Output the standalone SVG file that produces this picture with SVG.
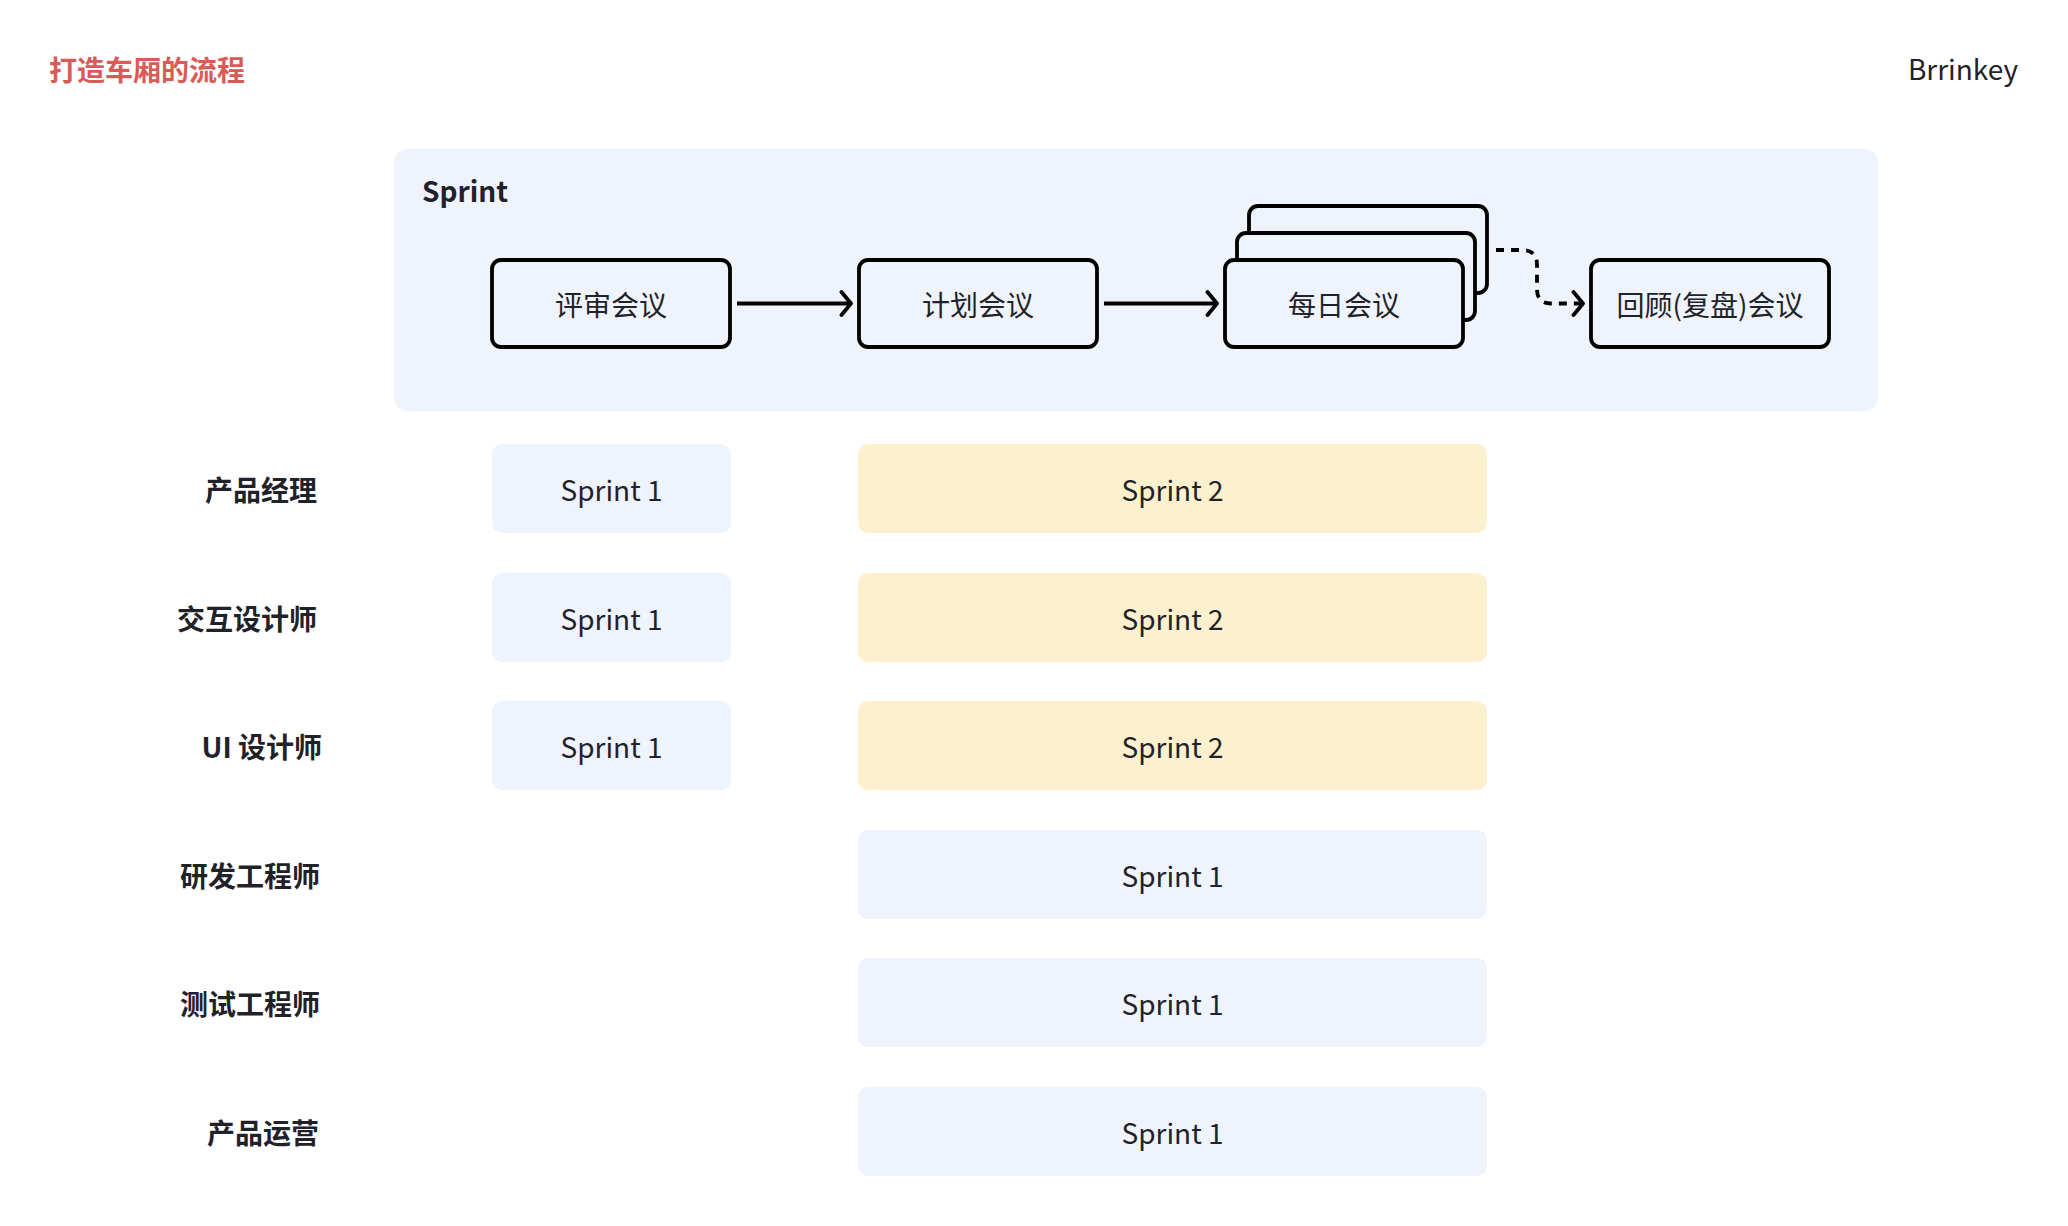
<svg xmlns="http://www.w3.org/2000/svg" width="2068" height="1226" viewBox="0 0 2068 1226">
<style>
text{font-family:"Noto Sans CJK SC","Noto Sans",sans-serif;fill:#1F2329}
.title{font-size:28px;font-weight:bold;fill:#D95B57}
.brand{font-size:28px;text-anchor:end}
.h{font-size:28px;font-weight:bold}
.lbl{font-size:28px;font-weight:bold;text-anchor:end}
.mt{font-size:28px;text-anchor:middle}
.st{font-size:28px;text-anchor:middle}
.meet{fill:#EFF3FC;stroke:#000;stroke-width:3.8}
.blue{fill:#EFF3FC}
.yel{fill:#FDF0CE}
.conn{fill:none;stroke:#000;stroke-width:3.8}
</style>
<defs>
<marker id="arr" viewBox="-14 -14 18 28" markerWidth="18" markerHeight="28" refX="0" refY="0" orient="auto" markerUnits="userSpaceOnUse">
<path d="M-9.5,-11.5 L0,0 L-9.5,11.5" fill="none" stroke="#000" stroke-width="3.8" stroke-linecap="round" stroke-linejoin="round"/>
</marker>
</defs>
<rect width="2068" height="1226" fill="#FFFFFF"/>
<text class="title" x="49" y="81">打造车厢的流程</text>
<text class="brand" x="2018" y="80">Brrinkey</text>

<g id="sprint-container">
<rect x="394" y="149" width="1484" height="262" rx="14" class="blue"/>
<text class="h" x="422" y="202">Sprint</text>
</g>

<g id="review">
<rect class="meet" x="492" y="260" width="238" height="87" rx="9"/>
<text class="mt" x="611" y="315.5">评审会议</text>
</g>
<g id="plan">
<rect class="meet" x="859" y="260" width="238" height="87" rx="9"/>
<text class="mt" x="978" y="315.5">计划会议</text>
</g>
<g id="daily">
<rect class="meet" x="1249" y="206" width="238" height="87" rx="9"/>
<rect class="meet" x="1237" y="233" width="238" height="87" rx="9"/>
<rect class="meet" x="1225" y="260" width="238" height="87" rx="9"/>
<text class="mt" x="1344" y="315.5">每日会议</text>
</g>
<g id="retro">
<rect class="meet" x="1591" y="260" width="238" height="87" rx="9"/>
<text class="mt" x="1710" y="315.5">回顾(复盘)会议</text>
</g>

<g id="connectors">
<path class="conn" d="M737,303.5 H851" marker-end="url(#arr)"/>
<path class="conn" d="M1104,303.5 H1217" marker-end="url(#arr)"/>
<path class="conn" d="M1496,250 H1522 Q1537,250 1537,265 V289 Q1537,303.5 1551,303.5 H1583" stroke-dasharray="8 7" marker-end="url(#arr)"/>
</g>

<g id="row-pm">
<text class="lbl" x="317" y="500.5">产品经理</text>
<rect class="blue" x="492" y="444" width="239" height="89" rx="10"/>
<text class="st" x="611.5" y="500.5">Sprint 1</text>
<rect class="yel" x="858" y="444" width="629" height="89" rx="10"/>
<text class="st" x="1172.5" y="500.5">Sprint 2</text>
</g>
<g id="row-ixd">
<text class="lbl" x="317" y="629.5">交互设计师</text>
<rect class="blue" x="492" y="573" width="239" height="89" rx="10"/>
<text class="st" x="611.5" y="629.5">Sprint 1</text>
<rect class="yel" x="858" y="573" width="629" height="89" rx="10"/>
<text class="st" x="1172.5" y="629.5">Sprint 2</text>
</g>
<g id="row-ui">
<text class="lbl" x="322" y="757.5">UI 设计师</text>
<rect class="blue" x="492" y="701" width="239" height="89" rx="10"/>
<text class="st" x="611.5" y="757.5">Sprint 1</text>
<rect class="yel" x="858" y="701" width="629" height="89" rx="10"/>
<text class="st" x="1172.5" y="757.5">Sprint 2</text>
</g>
<g id="row-dev">
<text class="lbl" x="320" y="886.5">研发工程师</text>
<rect class="blue" x="858" y="830" width="629" height="89" rx="10"/>
<text class="st" x="1172.5" y="886.5">Sprint 1</text>
</g>
<g id="row-qa">
<text class="lbl" x="320" y="1014.5">测试工程师</text>
<rect class="blue" x="858" y="958" width="629" height="89" rx="10"/>
<text class="st" x="1172.5" y="1014.5">Sprint 1</text>
</g>
<g id="row-ops">
<text class="lbl" x="319" y="1143.5">产品运营</text>
<rect class="blue" x="858" y="1087" width="629" height="89" rx="10"/>
<text class="st" x="1172.5" y="1143.5">Sprint 1</text>
</g>
</svg>
